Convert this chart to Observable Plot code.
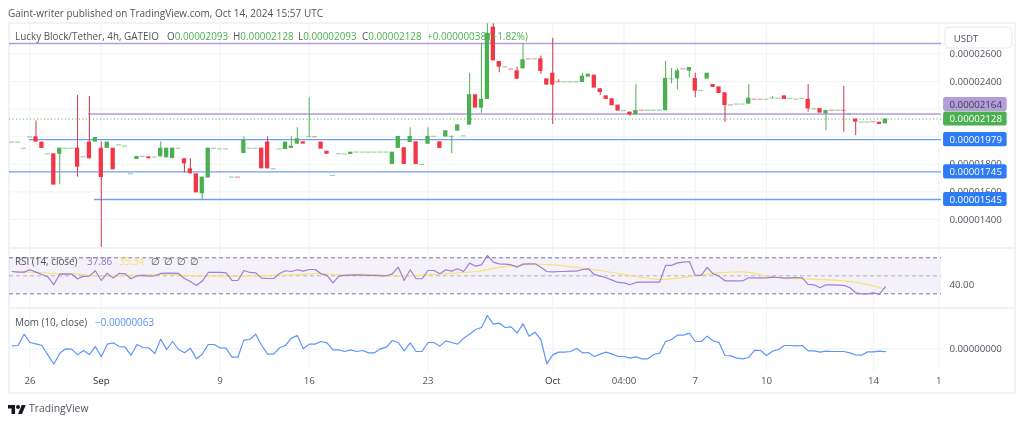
<!DOCTYPE html>
<html>
<head>
<meta charset="utf-8">
<script src="https://cdn.jsdelivr.net/npm/d3@7"></script>
<script src="https://cdn.jsdelivr.net/npm/@observablehq/plot@0.6"></script>
<style>
html,body{margin:0;padding:0;background:#fff;width:1024px;height:424px;overflow:hidden;font-family:"Open Sans",sans-serif;color:#50535e}
#page{position:relative;width:1024px;height:424px;filter:blur(0.35px)}
#panes{position:absolute;left:0;top:23px}
#panes svg{display:block;background:transparent}
.t{position:absolute;white-space:pre;font-size:9.9px;line-height:14px}
.g{color:#4caf50}.p{color:#9575cd}.y{color:#f5e36b}.b{color:#5b8ffc}
.box{position:absolute;background:#f0f2f6}
</style>
</head>
<body>
<div id="page">
  <div class="box" style="left:8px;top:22px;width:1007px;height:2px"></div>
  <div class="box" style="left:8px;top:392px;width:1007px;height:2px"></div>
  <div class="box" style="left:8px;top:22px;width:2px;height:372px"></div>
  <div class="box" style="left:1014px;top:22px;width:2px;height:372px"></div>
  <div id="panes"></div>
  <div class="box" style="left:8px;top:247px;width:1007px;height:2px"></div>
  <div class="box" style="left:8px;top:307px;width:1007px;height:2px"></div>
  <div class="t" style="left:8px;top:6px;font-size:10px">Gaint-writer published on TradingView.com, Oct 14, 2024 15:57 UTC</div>
  <div class="t" style="left:15px;top:29px">Lucky Block/Tether, 4h, GATEIO</div>
  <div class="t" style="left:167px;top:29px">O<span class="g">0.00002093</span></div>
  <div class="t" style="left:233px;top:29px">H<span class="g">0.00002128</span></div>
  <div class="t" style="left:298px;top:29px">L<span class="g">0.00002093</span></div>
  <div class="t" style="left:362px;top:29px">C<span class="g">0.00002128</span></div>
  <div class="t g" style="left:427px;top:29px">+0.00000038 (+1.82%)</div>
  <div class="t" style="left:15px;top:254px">RSI (14, close)</div>
  <div class="t p" style="left:87px;top:254px">37.86</div>
  <div class="t y" style="left:119px;top:254px">35.34</div>
  <div class="t" style="left:151px;top:254px">∅</div>
  <div class="t" style="left:164px;top:254px">∅</div>
  <div class="t" style="left:177px;top:254px">∅</div>
  <div class="t" style="left:190px;top:254px">∅</div>
  <div class="t" style="left:15px;top:315px">Mom (10, close)</div>
  <div class="t b" style="left:95px;top:315px">−0.00000063</div>
  <svg style="position:absolute;left:8px;top:403px" width="18" height="12" viewBox="0 0 36 24"><path fill="#131722" d="M14 22H7V11H0V4h14v18zM28 22h-8l7.5-18h8L28 22z"/><circle cx="20" cy="8" r="4" fill="#131722"/></svg>
  <div class="t" style="left:29px;top:401px;font-size:10.4px">TradingView</div>
</div>
<script>
// Prices in units of 0.00000001 USDT
const opens = [1960,1960,1915,1998,1999,1961,1875,1876,1873,1915,
1915,1917,1853,1961,1961,1917,1915,1917,1940,1930,
1730,1835,1856,1854,1851,1854,1847,1842,1915,1840,
1767,1731,1586,1700,1915,1910,1910,1706,1709,1878,
1915,1915,1917,1961,1766,1910,1907,1915,1946,1963,
1998,2001,1961,1895,1718,1875,
1873,1871,1887,1887,1887,1887,1887,1887,1799,1915,
1920,1958,1963,1798,1946,2001,1963,1997,2001,2040,
2005,2084,2304,2207,2270,2794,2545,2505,2492,2477,
2492,2566,2563,2564,2419,2460,2399,2396,2396,2396,
2393,2432,2446,2347,2296,2275,2229,2188,2178,2159,
2193,2190,2190,2190,2188,2418,2419,
2494,2475,2422,2333,2417,2378,2361,2318,2232,2235,
2235,2236,2273,2273,2270,2278,2278,2296,2276,2270,
2276,2272,2201,2204,2166,2193,2190,2193,2162,2127,
2104,2105,2111,2105,2093];
const closes = [1963,1963,1918,2001,1961,1915,1878,1649,1917,1918,
1918,1779,1856,1840,1994,1704,1961,1760,1943,1933,
1733,1857,1859,1840,1854,1917,1917,1917,1918,1803,
1731,1593,1707,1917,1918,1913,1913,1709,1706,1977,
1918,1918,1767,1767,1769,1913,1961,1931,1985,1946,
2001,1998,1910,1873,1721,1878,
1876,1888,1890,1890,1890,1890,1890,1890,1888,2002,
1799,2002,1799,1801,2002,2004,1915,2043,2004,2086,
2008,2304,2207,2272,2750,2550,2504,2508,2489,2417,
2557,2563,2566,2473,2374,2374,2396,2399,2399,2399,
2439,2453,2352,2320,2270,2224,2185,2191,2159,2190,
2190,2193,2193,2193,2422,2421,2477,
2491,2501,2330,2336,2460,2357,2313,2226,2229,2238,
2238,2279,2270,2270,2273,2281,2281,2270,2279,2273,
2279,2202,2204,2171,2190,2190,2193,2190,2165,2105,
2107,2108,2108,2089,2128];
// candle index, high, low — only candles with a visible wick
const wicks = [[4,2113,1961],[8,1917,1651],[11,2299,1707],[13,2291,1840],[15,1961,1195],[25,1961,1854],[27,1917,1838],[29,1840,1736],[30,1840,1731],[32,1707,1538],[39,1999,1878],[43,1999,1767],[47,1999,1915],[48,2064,1946],[50,2282,1998],
[67,2064,1958],[70,2064,1946],[74,2004,1876],[77,2458,2084],[79,2673,2171],[80,2818,2270],[81,2818,2550],[82,2545,2463],[85,2504,2417],[86,2673,2492],[89,2584,2453],[91,2714,2089],[92,2412,2396],[96,2458,2393],[99,2347,2301],[104,2178,2149],[105,2378,2159],[110,2545,2188],[111,2494,2383],[112,2492,2340],[114,2501,2427],[115,2460,2282],[120,2318,2105],[124,2378,2236],[128,2290,2278],[134,2378,2178],[137,2190,2045],[140,2366,2033],[142,2127,2009]];
const rsi = [54.8,54.1,54.1,56.7,54.1,51.5,48.9,40,51.9,52.2,51.9,46.7,49.3,49.6,55.6,44.8,53,47.4,52.6,52.2,46.7,50,50.4,49.6,50,52.6,53,53,52.6,47,43.7,39.3,44.1,53.7,53.7,53.7,53.3,44.8,44.8,55.9,53.7,53.3,47.4,47,47,52.6,55.6,54.8,56.7,55.2,57,57,52.2,50.4,42.2,49.6,
50.4,50.7,51.1,50.7,50.4,50.4,50,50,52.2,59.6,44.8,56.7,46.7,46.7,55.9,55.9,52.2,56.7,55.2,57.8,54.8,64.1,60.7,62.2,72.6,65.2,63.3,63,62.2,59.6,63,63.3,63.3,59.6,54.8,54.4,54.8,54.8,55.2,55.2,57,57.8,51.5,49.6,47.8,45.2,42.6,42.2,40,42.6,43,43,43,43,61.5,61.5,64.4,
65.2,65.9,50.4,50.4,59.3,52.2,49.6,44.4,44.4,44.4,44.4,47.8,47.8,47.8,47.8,48.5,48.1,47.4,47.8,48.1,47.8,40.4,40,36.7,40,40,39.6,39.3,37,31.1,30,30,31.1,29.3,37.86];
const rsiMaIdx = [0,3,7,11,15,20,26,29,33,37,43,49,51,54,56,59,62,65,72,78,83,89,95,100,105,109,113,116,119,123,127,130,133,141,147];
const rsiMaVal = [54.8,54.1,52.6,51.9,49.6,50.4,51.9,50.4,49.6,49.6,50.4,51.5,52.6,51.5,51.1,51.9,51.1,49.6,51.9,54.8,60.4,62.6,59.3,54.8,49.3,45.9,48.1,51.1,53.3,54.4,49.6,47.4,46.7,43.7,35.34];
const mom = [68,75,330,143,113,75,-135,-345,-98,0,-8,-135,-38,-128,53,-180,105,135,53,38,-143,98,30,23,-105,218,-15,165,-15,-90,15,-225,-120,98,98,23,15,-188,-188,195,210,330,75,-120,-120,23,75,240,300,0,105,105,165,135,-23,-23,
-60,-23,-60,-38,-90,-90,0,38,188,143,-45,135,-60,-60,143,143,60,180,143,105,240,330,435,480,750,555,578,480,495,353,563,285,375,210,-338,-135,-75,-75,-60,8,-90,-83,-173,-120,-75,-120,-173,-173,-210,-180,-225,-225,-128,-98,165,210,308,
308,353,165,165,285,180,143,-150,-158,-210,-225,-195,-30,-38,-150,-53,-15,75,75,68,75,-45,-45,-75,-53,-60,-60,-60,-90,-135,-143,-68,-68,-53,-63];
const xTickIdx = [3,15,35,50,70,91,103,115,127,145,156];
const xTickLabels = ["26","Sep","9","16","23","Oct","04:00","7","10","14","1"];
const xTickStrong = ["Sep","Oct"];
const priceGrid = [2600,2400,2200,2000,1800,1600,1400];
const priceTicks = [2600,2400,1800,1600,1400];
const levelValues = [2675,2164,1979,1745,1545];
const levelStarts = [-0.455,12.85,2.9,-0.455,13.85];
const levelColors = ["#b39ddb","#b39ddb","#6f9ff8","#6f9ff8","#6f9ff8"];
const lastPrice = 2128;
const tagValues = [2164,2128,1979,1745,1545];
const tagAnchors = [2233,2128,1979,1745,1545];
const tagFills = ["#b39ddb","#4caf50","#2e7bf6","#2e7bf6","#2e7bf6"];
const tagInk = ["#3d3f48","#fff","#fff","#fff","#fff"];

const UP="#4caf50", DOWN="#f23645", FONT='"Open Sans",sans-serif', GRID="#f0f3fa";
const fmt8 = d => (d/1e8).toFixed(8);
const candles = opens.map((o,i)=>({i,o,c:closes[i]}));
const big = candles.filter(d=>Math.abs(d.o-d.c)>8);
const doji = candles.filter(d=>Math.abs(d.o-d.c)<=8);
const wickRows = wicks.map(([i,h,l])=>({i,h,l,up:closes[i]>=opens[i]}));
const xScale = {domain:[-0.455,156.45], axis:null};
const base = {width:1024, marginLeft:9, marginRight:83, marginTop:0, marginBottom:0,
  style:{fontFamily:FONT,fontSize:"9.7px",color:"#50535e",background:"transparent",overflow:"visible"}};
const vgrid = Plot.ruleX(xTickIdx,{stroke:GRID,strokeWidth:1});

const levels = levelValues.map((v,k)=>({v,s:levelStarts[k],c:levelColors[k]}));
const tags = tagValues.map((v,k)=>({v,a:tagAnchors[k],f:tagFills[k],ink:tagInk[k]}));
const main = Plot.plot({...base, height:225, x:xScale,
  y:{domain:[2400,1400],range:[58,196],axis:null},
  marks:[
    Plot.ruleY(priceGrid,{stroke:GRID}),
    vgrid,
    Plot.ruleY(levels,{y:"v",x1:"s",x2:156.45,stroke:"c",strokeWidth:1.4}),
    Plot.ruleY([lastPrice],{x1:-0.455,x2:156.45,stroke:UP,strokeWidth:1,strokeDasharray:"1,2.5"}),
    Plot.ruleX(wickRows,{x:"i",y1:"l",y2:"h",stroke:d=>d.up?"#5fb563":"#cf4a58",strokeWidth:1.1}),
    Plot.rect(big,{x1:d=>d.i-0.36,x2:d=>d.i+0.36,y1:"o",y2:"c",fill:d=>d.c>d.o?UP:DOWN}),
    Plot.ruleY(doji,{y:d=>(d.o+d.c)/2,x1:d=>d.i-0.42,x2:d=>d.i+0.42,stroke:d=>d.c>d.o?UP:DOWN,strokeWidth:1.2,strokeOpacity:0.55}),
    Plot.axisY(priceTicks,{anchor:"right",tickSize:0,tickPadding:8,tickFormat:fmt8,label:null,textAnchor:"start",fill:"#50535e"}),
    Plot.rect(tags,{x1:156.8,x2:167.5,y1:d=>d.a-51,y2:d=>d.a+51,fill:"f",rx:2}),
    Plot.text(tags,{x:157.8,y:"a",text:d=>fmt8(d.v),fill:"ink",textAnchor:"start",fontWeight:500}),
    Plot.rect([0],{x1:157.1,x2:168.4,y1:2791,y2:2639,fill:"#fff",stroke:"#e6e9f0",rx:4}),
    Plot.text(["USDT"],{x:158.5,y:2712,textAnchor:"start",fill:"#50535e"})
  ]});

const rsiRows = rsi.map((v,i)=>({i,v}));
const rsiMa = rsiMaIdx.map((i,k)=>({i,v:rsiMaVal[k]}));
const rsiPane = Plot.plot({...base, height:60, x:xScale,
  y:{domain:[70,30],range:[9.3,45.3],axis:null},
  marks:[
    Plot.rect([0],{x1:-0.455,x2:156.45,y1:70,y2:30,fill:"#7e57c2",fillOpacity:0.085}),
    vgrid,
    Plot.ruleY([40],{stroke:GRID}),
    Plot.ruleY([70,30],{x1:-0.455,x2:156.45,stroke:"#787b86",strokeDasharray:"4,3"}),
    Plot.ruleY([50],{x1:-0.455,x2:156.45,stroke:"#787b86",strokeOpacity:0.5,strokeDasharray:"4,3"}),
    Plot.line(rsiMa,{x:"i",y:"v",stroke:"#f7e474",strokeWidth:1.2,curve:"monotone-x"}),
    Plot.line(rsiRows,{x:"i",y:"v",stroke:"#9d7fd6",strokeWidth:1.2}),
    Plot.axisY([40],{anchor:"right",tickSize:0,tickPadding:8,tickFormat:d=>d.toFixed(2),label:null,textAnchor:"start",fill:"#50535e"})
  ]});

const momRows = mom.map((v,i)=>({i,v}));
const tickLabel = d => xTickLabels[xTickIdx.indexOf(d)];
const momPane = Plot.plot({...base, height:85, marginBottom:23, x:xScale,
  y:{domain:[750,-450],range:[7,60.33],axis:null},
  marks:[
    Plot.ruleX(xTickIdx,{y1:907,y2:-500,stroke:GRID}),
    Plot.ruleY([0],{x1:-0.455,x2:156.45,stroke:GRID}),
    Plot.line(momRows,{x:"i",y:"v",stroke:"#5f95fb",strokeWidth:1.2}),
    Plot.axisY([0],{anchor:"right",tickSize:0,tickPadding:8,tickFormat:fmt8,label:null,textAnchor:"start",fill:"#50535e"}),
    Plot.axisX(xTickIdx.filter(d=>!xTickStrong.includes(tickLabel(d))),{anchor:"bottom",tickSize:0,tickPadding:7,tickFormat:tickLabel,label:null,fill:"#50535e"}),
    Plot.axisX(xTickIdx.filter(d=>xTickStrong.includes(tickLabel(d))),{anchor:"bottom",tickSize:0,tickPadding:7,tickFormat:tickLabel,label:null,fill:"#2a2e39",fontWeight:500})
  ]});
document.getElementById("panes").append(main,rsiPane,momPane);
</script>
</body>
</html>
